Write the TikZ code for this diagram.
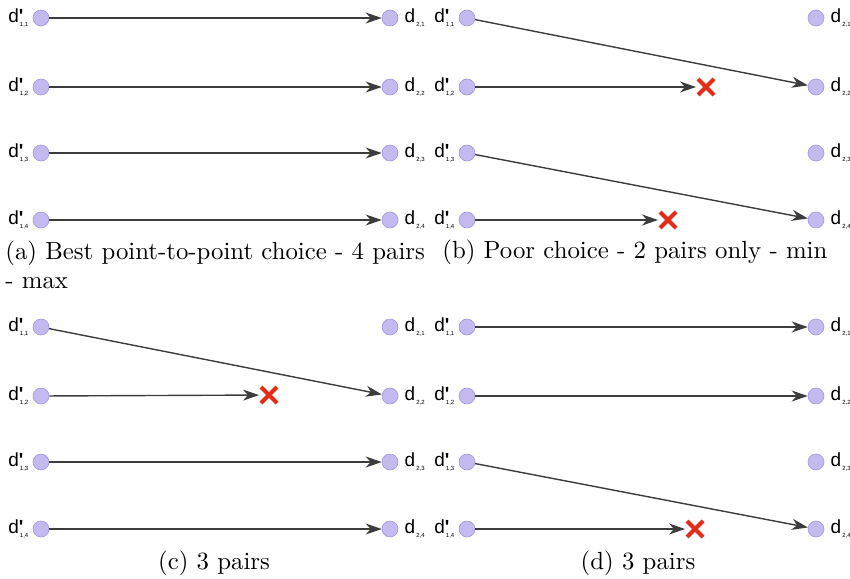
\documentclass[tikz,border=0pt]{standalone}
\usepackage{fontspec}
\usepackage{graphicx}
\usepackage{tikz}
\usetikzlibrary{positioning, arrows.meta, shapes.misc}

\newfontfamily\labelfont{Liberation Sans}
\definecolor{dotfill}{RGB}{196,186,240}
\definecolor{dotline}{RGB}{160,150,220}
\definecolor{linkgray}{RGB}{60,60,60}
\definecolor{missred}{RGB}{228,45,25}

% d' and d labels with tiny indices
\newcommand{\dsrc}[1]{d\rlap{\raisebox{0.4pt}{\textbf{'}}}\raisebox{-1.6pt}{\fontsize{3}{3}\selectfont\,#1}}
\newcommand{\ddst}[1]{d\raisebox{-1.6pt}{\fontsize{3}{3}\selectfont\,#1}}
\newcommand{\capbox}[1]{\scalebox{1.24}{#1}}

\begin{document}
\begin{tikzpicture}[x=0.5pt, y=-0.5pt,
    dot/.style={circle, fill=dotfill, draw=dotline, line width=0.3pt, minimum size=8pt, inner sep=0},
    lab/.style={font=\labelfont\fontsize{9.5}{9.5}\selectfont, inner sep=0.5pt},
    link/.style={-{Stealth[length=8pt, width=5.5pt, inset=2.5pt]}, draw=linkgray, line width=0.7pt},
    miss/.style={cross out, draw=missred, line width=2pt, minimum size=6pt, inner sep=0},
    subcap/.style={font=\fontsize{10}{12}\selectfont, inner sep=0}]
  \useasboundingbox (0,0) rectangle (850,578);

  % the dots of the four panels
  \foreach \p/\dx/\dy in {a/0/0, b/426/0, c/0/309, d/426/309} {
    \foreach \i/\y in {1/18, 2/87, 3/153, 4/220} {
      \node[dot] (\p-src\i) at (41+\dx, \y+\dy) {};
      \node[dot] (\p-dst\i) at (390+\dx, \y+\dy) {};
      \node[lab, left=1.5pt of \p-src\i] (\p-srclab\i) {\dsrc{1,\i}};
      \node[lab, right=2.5pt of \p-dst\i] (\p-dstlab\i) {\ddst{2,\i}};
    }
  }

  % (a)
  \foreach \i in {1,...,4}
    \draw[link] (a-src\i) -- (a-dst\i);

  % (b)
  \node[miss] (b-x2) at (706,87) {};
  \node[miss] (b-x4) at (668,220) {};
  \draw[link] (b-src1) -- (b-dst2);
  \draw[link, shorten >=1pt] (b-src2) -- (b-x2);
  \draw[link] (b-src3) -- (b-dst4);
  \draw[link, shorten >=1pt] (b-src4) -- (b-x4);

  % (c)
  \node[miss] (c-x2) at (269,395) {};
  \draw[link] (c-src1) -- (c-dst2);
  \draw[link, shorten >=1pt] (c-src2) -- (c-x2);
  \draw[link] (c-src3) -- (c-dst3);
  \draw[link] (c-src4) -- (c-dst4);

  % (d)
  \node[miss] (d-x4) at (695,529) {};
  \draw[link] (d-src1) -- (d-dst1);
  \draw[link] (d-src2) -- (d-dst2);
  \draw[link] (d-src3) -- (d-dst4);
  \draw[link, shorten >=1pt] (d-src4) -- (d-x4);

  % captions
  \node[subcap, anchor=north west] (a-cap) at (5,238)
    {\capbox{\begin{tabular}{@{}l@{}}(a) Best point-to-point choice - 4 pairs\\- max\end{tabular}}};
  \node[subcap, anchor=base west] (b-cap) at (442,258) {\capbox{(b) Poor choice - 2 pairs only - min}};
  \node[subcap, anchor=base] (c-cap) at (214,569) {\capbox{(c) 3 pairs}};
  \node[subcap, anchor=base] (d-cap) at (638,569) {\capbox{(d) 3 pairs}};
\end{tikzpicture}
\end{document}
